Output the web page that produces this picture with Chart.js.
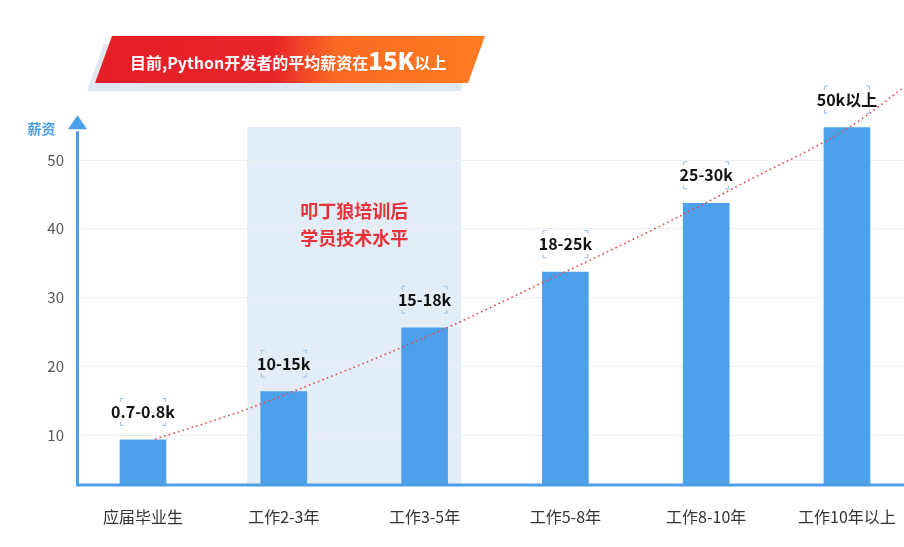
<!DOCTYPE html>
<html>
<head>
<meta charset="utf-8">
<script src="https://cdn.jsdelivr.net/npm/chart.js@4.4.0/dist/chart.umd.min.js"></script>
<style>
    html, body { margin: 0; padding: 0; background: #fff; overflow: hidden; }
    #wrap { position: relative; width: 904px; height: 547px; }
    #myChart { position: absolute; left: 0; top: 0; }
    .banner-shadow, .banner {
        position: absolute; width: 390px; height: 47px;
        clip-path: polygon(17px 0, 390px 0, 373px 47px, 0 47px);
    }
    .banner-shadow { left: 87px; top: 44px; background: #dfe7f1; }
    .banner {
        left: 95px; top: 36px;
        background: linear-gradient(90deg, #e41e25 0%, #e8262a 46%, #fb6a23 62%, #fe7c22 100%);
    }
    .banner-text {
        position: absolute; left: 130px; top: 36px; height: 47px; line-height: 47px;
        color: #fff; font-family: "Noto Sans CJK SC", sans-serif; font-weight: bold;
        font-size: 16px; white-space: nowrap;
    }
    .banner-text b { font-size: 24px; vertical-align: -1px; }
</style>
</head>
<body>
<div id="wrap">
    <canvas id="myChart" width="904" height="547"></canvas>
    <div class="banner-shadow"></div>
    <div class="banner"></div>
    <div class="banner-text">目前,Python开发者的平均薪资在<b>15K</b>以上</div>
</div>
<script>
(function () {
    'use strict';

    // ── Data ───────────────────────────────────────────────────────────────────
    const categories   = ['应届毕业生', '工作2-3年', '工作3-5年', '工作5-8年', '工作8-10年', '工作10年以上'];
    const salaryValues = [9.3, 16.3, 25.6, 33.7, 43.7, 54.7];
    const rangeLabels  = ['0.7-0.8k', '10-15k', '15-18k', '18-25k', '25-30k', '50k以上'];
    const yTicks       = [10, 20, 30, 40, 50];

    // dotted trend curve (x in category units)
    const trendX = [0.085, 0.69, 1.26, 1.54, 2.16, 2.83, 3.10, 3.83, 4.24, 5.02, 5.40];
    const trendY = [9.4, 13.4, 17.9, 20.2, 25.6, 32.1, 34.7, 42.0, 46.4, 54.8, 60.5];

    // shaded "after training" band
    const bandFrom = 0.74;
    const bandTo   = 2.26;
    const bandTop  = 54.8;
    const bandText = ['叩丁狼培训后', '学员技术水平'];

    const yTitle = '薪资';

    // ── Style ──────────────────────────────────────────────────────────────────
    const AXIS_BLUE = '#4a9fe6';
    const BAR_BLUE  = '#4ca1ea';
    const CJK       = '"Noto Sans CJK SC", sans-serif';

    // ── Decorations plugin ─────────────────────────────────────────────────────
    const decorPlugin = {
        id: 'decor',
        beforeDraw(chart) {
            const { ctx, scales: { x, y } } = chart;
            const l = x.getPixelForValue(bandFrom);
            const r = x.getPixelForValue(bandTo);
            const t = y.getPixelForValue(bandTop);
            ctx.save();
            ctx.fillStyle = '#e2edf7';
            ctx.fillRect(l, t, r - l, y.bottom - t);

            ctx.fillStyle = '#e8323a';
            ctx.font = 'bold 18px ' + CJK;
            ctx.textAlign = 'center';
            ctx.textBaseline = 'middle';
            const cx = (l + r) / 2;
            ctx.fillText(bandText[0], cx, y.getPixelForValue(42.6));
            ctx.fillText(bandText[1], cx, y.getPixelForValue(38.7));
            ctx.restore();
        },
        afterDatasetsDraw(chart) {
            const { ctx, chartArea, scales: { x, y } } = chart;
            const ax = chartArea.left - 0.5;
            const ay = y.bottom;
            ctx.save();

            // axes
            ctx.strokeStyle = AXIS_BLUE;
            ctx.lineWidth = 3;
            ctx.beginPath();
            ctx.moveTo(ax, ay);
            ctx.lineTo(chartArea.right, ay);
            ctx.moveTo(ax, ay + 1.5);
            ctx.lineTo(ax, y.getPixelForValue(54.2));
            ctx.stroke();

            // arrow head
            const tip = y.getPixelForValue(56.5);
            ctx.fillStyle = AXIS_BLUE;
            ctx.beginPath();
            ctx.moveTo(ax, tip);
            ctx.lineTo(ax + 9.5, tip + 14);
            ctx.lineTo(ax - 9.5, tip + 14);
            ctx.closePath();
            ctx.fill();

            // axis title
            ctx.font = 'bold 14px ' + CJK;
            ctx.textAlign = 'right';
            ctx.textBaseline = 'middle';
            ctx.fillText(yTitle, ax - 22, tip + 13);

            // value labels with corner brackets
            const meta = chart.getDatasetMeta(1);
            meta.data.forEach((bar, i) => {
                const half = bar.width / 2;
                const l = bar.x - half, r = bar.x + half;
                const b = bar.y - 14, t = b - 28;
                const arm = 4;
                ctx.strokeStyle = '#94bfe9';
                ctx.lineWidth = 1;
                ctx.beginPath();
                ctx.moveTo(l + 0.5, t + arm); ctx.lineTo(l + 0.5, t + 0.5); ctx.lineTo(l + arm, t + 0.5);
                ctx.moveTo(r - arm, t + 0.5); ctx.lineTo(r - 0.5, t + 0.5); ctx.lineTo(r - 0.5, t + arm);
                ctx.moveTo(l + 0.5, b - arm); ctx.lineTo(l + 0.5, b - 0.5); ctx.lineTo(l + arm, b - 0.5);
                ctx.moveTo(r - arm, b - 0.5); ctx.lineTo(r - 0.5, b - 0.5); ctx.lineTo(r - 0.5, b - arm);
                ctx.stroke();

                ctx.fillStyle = '#111';
                ctx.font = 'bold 16px ' + CJK;
                ctx.textAlign = 'center';
                ctx.textBaseline = 'middle';
                ctx.fillText(rangeLabels[i], bar.x, (t + b) / 2);
            });

            ctx.restore();
        }
    };

    // ── Chart ──────────────────────────────────────────────────────────────────
    const chart = new Chart(document.getElementById('myChart').getContext('2d'), {
        type: 'bar',
        data: {
            datasets: [{
                type: 'line',
                data: trendX.map((v, i) => ({ x: v, y: trendY[i] })),
                borderColor: '#e64b4b',
                borderWidth: 1.6,
                borderDash: [1.6, 3.2],
                pointRadius: 0,
                cubicInterpolationMode: 'monotone',
                fill: false,
                order: 0
            }, {
                type: 'bar',
                data: salaryValues.map((v, i) => ({ x: i, y: v })),
                backgroundColor: BAR_BLUE,
                barThickness: 46,
                order: 1
            }]
        },
        options: {
            responsive: false,
            animation: false,
            layout: { padding: { top: 77.5, left: 0, right: 0, bottom: 0 } },
            plugins: {
                legend: { display: false },
                tooltip: { enabled: false }
            },
            scales: {
                x: {
                    type: 'linear',
                    offset: false,
                    min: -0.4616,
                    max: 5.405,
                    grid: { display: false, offset: false },
                    border: { display: false },
                    afterBuildTicks: (axis) => { axis.ticks = categories.map((_, i) => ({ value: i })); },
                    afterFit: (axis) => {
                        axis.height = 62;
                        axis.paddingLeft = 0;
                        axis.paddingRight = 0;
                    },
                    ticks: {
                        autoSkip: false,
                        maxRotation: 0,
                        padding: 14,
                        color: '#333',
                        font: { family: CJK, size: 16 },
                        callback: (v) => categories[v] ?? ''
                    }
                },
                y: {
                    min: 2.73,
                    max: 62,
                    grid: { color: '#efefef', lineWidth: 1, drawTicks: false },
                    border: { display: false },
                    afterBuildTicks: (axis) => { axis.ticks = yTicks.map(v => ({ value: v })); },
                    afterFit: (axis) => {
                        axis.width = 78;
                        axis.paddingTop = 0;
                        axis.paddingBottom = 0;
                    },
                    ticks: {
                        padding: 14,
                        color: '#555',
                        font: { family: CJK, size: 15 }
                    }
                }
            }
        },
        plugins: [decorPlugin]
    });
}());
</script>
</body>
</html>
